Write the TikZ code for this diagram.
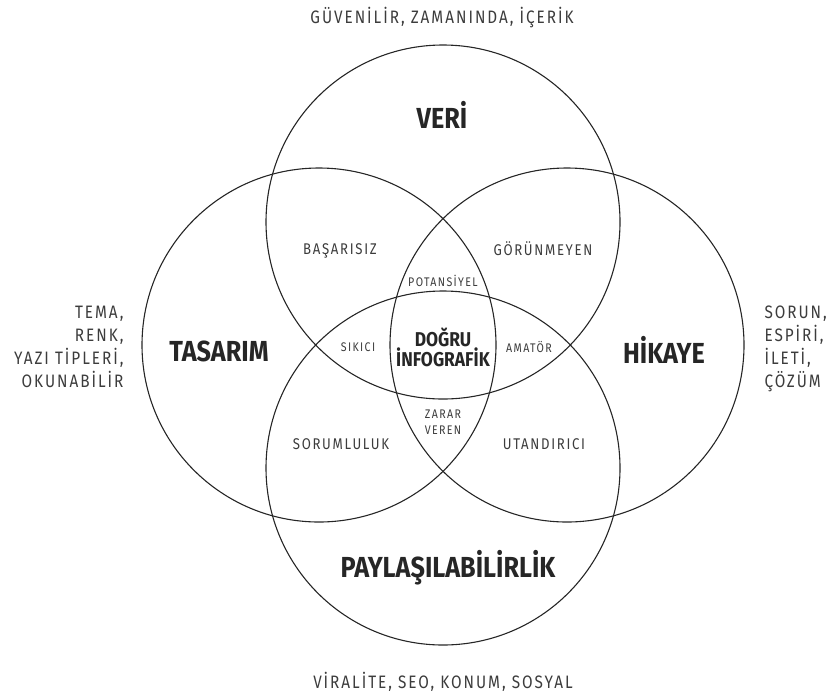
\documentclass[tikz,border=0pt]{standalone}
\usepackage{fontspec}
\setmainfont{Fira Sans}[FakeStretch=0.85, LetterSpace=11]
\newfontfamily\headfont{Fira Sans}[FakeStretch=0.87, LetterSpace=0]
\definecolor{ink}{HTML}{262626}
\begin{document}
\begin{tikzpicture}[
    x=1pt, y=-1pt,
    ring/.style={circle, draw=ink, line width=1.1pt, minimum size=354pt, inner sep=0pt},
    title/.style={text=ink, font=\headfont\bfseries\fontsize{29}{29}\selectfont, text depth=0pt},
    note/.style={text=ink!90, font=\fontsize{18}{23}\selectfont, text depth=0pt},
    zone/.style={text=ink!90, font=\fontsize{15.5}{16}\selectfont, text depth=0pt},
    small/.style={text=ink!90, font=\fontsize{12.5}{16}\selectfont, text depth=0pt, align=center}
]
    \useasboundingbox (0,0) rectangle (827,697);

    \node[ring] (veri) at (443,222) {};
    \node[ring] (tasarim) at (319,345) {};
    \node[ring] (hikaye) at (567,345) {};
    \node[ring] (pay) at (443,468) {};

    \node[title] (tveri) at (442,115) {VERİ};
    \node[title] (ttasarim) at (219,351) {TASARIM};
    \node[title] (thikaye) at (664,350) {HİKAYE};
    \node[title] (tpay) at (448,564) {PAYLAŞILABİLİRLİK};

    \node[note] (nveri) at (442,15) {GÜVENİLİR, ZAMANINDA, İÇERİK};
    \node[note] (npay) at (443,680) {VİRALİTE, SEO, KONUM, SOSYAL};
    \node[note, anchor=east, align=right] (ntasarim) at (127,347) {TEMA,\\RENK,\\YAZI TİPLERİ,\\OKUNABİLİR};
    \node[note, anchor=west, align=left] (nhikaye) at (761,347) {SORUN,\\ESPİRİ,\\İLETİ,\\ÇÖZÜM};

    \node[zone] (basarisiz) at (340,249) {BAŞARISIZ};
    \node[zone] (gorunmeyen) at (543,249) {GÖRÜNMEYEN};
    \node[zone] (sorumluluk) at (341,444) {SORUMLULUK};
    \node[zone] (utandirici) at (544,444) {UTANDIRICI};

    \node[small] (potansiyel) at (443,281) {POTANSİYEL};
    \node[small] (sikici) at (358,347) {SIKICI};
    \node[small] (amator) at (529,347) {AMATÖR};
    \node[small] (zarar) at (443,422) {ZARAR\\VEREN};

    \node[title, font=\headfont\bfseries\fontsize{20}{19}\selectfont, align=center] (dogru) at (443,347) {DOĞRU\\İNFOGRAFİK};
\end{tikzpicture}
\end{document}
